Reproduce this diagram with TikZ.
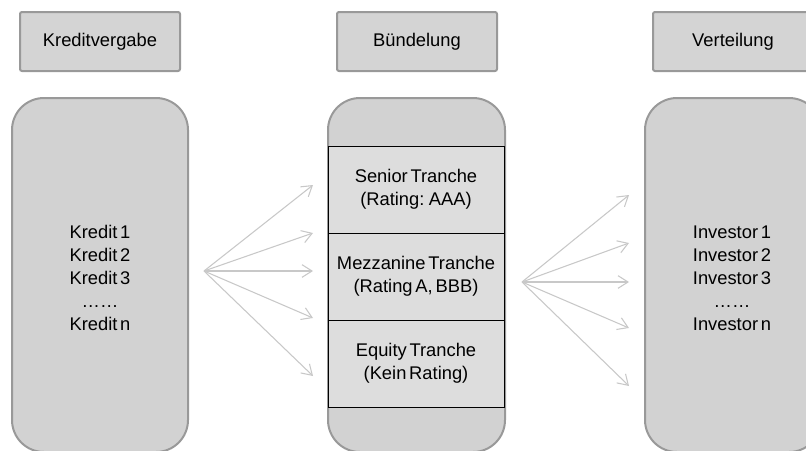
\documentclass[tikz,border=0pt]{standalone}
\usepackage{fontspec}
\setmainfont{Liberation Sans}[WordSpace=0.55]
\usetikzlibrary{arrows.meta}

\definecolor{hdrfill}{HTML}{D4D4D4}
\definecolor{boxfill}{HTML}{D2D2D2}
\definecolor{trfill}{HTML}{DDDDDD}
\definecolor{edgegray}{HTML}{999999}
\definecolor{arrowgray}{HTML}{C8C8C8}

\begin{document}
\begin{tikzpicture}[x=0.75pt,y=-0.75pt,
  every node/.style={font=\fontsize{13.75pt}{17.25pt}\selectfont, inner sep=0pt},
  header/.style={draw=edgegray, line width=1.5pt, fill=hdrfill, rounded corners=1.5pt,
    minimum width=120pt, minimum height=44.25pt},
  column/.style={draw=edgegray, line width=1.5pt, fill=boxfill, rounded corners=24pt,
    minimum height=265.5pt},
  tranche/.style={draw=black, line width=0.75pt, fill=trfill, align=center,
    minimum width=132pt, minimum height=65.25pt},
  listtext/.style={align=center},
  fan/.style={draw=arrowgray, line width=0.8pt,
    -{Straight Barb[length=7.5pt, width=9.5pt, line width=0.8pt]}}
]
\useasboundingbox (0,0) rectangle (806,450);

% column headers
\node[header] (hKredit) at (100,41.5) {Kreditvergabe};
\node[header] (hBuendel) at (417,41.5) {Bündelung};
\node[header] (hVerteil) at (733,41.5) {Verteilung};

% large rounded columns
\node[column, minimum width=132pt] (cKredit) at (100,275) {};
\node[column, minimum width=132.75pt] (cBuendel) at (416.5,275) {};
\node[column, minimum width=132pt] (cVerteil) at (733,275) {};

% tranches inside the pooling column
\node[tranche] (tSenior) at (416,189.5) {Senior Tranche\\(Rating: AAA)};
\node[tranche] (tMezz) at (416,276.5) {Mezzanine Tranche\\(Rating A, BBB)};
\node[tranche] (tEquity) at (416,363.5) {Equity Tranche\\(Kein Rating)};

% lists of loans and investors
\node[listtext] (lKredit) at (100,278) {Kredit 1\\Kredit 2\\Kredit 3\\……\\Kredit n};
\node[listtext] (lInvest) at (732,278) {Investor 1\\Investor 2\\Investor 3\\……\\Investor n};

% fan of arrows: loans to tranches
\coordinate (fanL) at (204,271);
\coordinate (tL1) at (313,185);
\coordinate (tL2) at (313,233);
\coordinate (tL3) at (313,271);
\coordinate (tL4) at (313,318);
\coordinate (tL5) at (313,376);
\foreach \t in {tL1,tL2,tL3,tL4,tL5} \draw[fan] (fanL) -- (\t);

% fan of arrows: tranches to investors
\coordinate (fanR) at (522,282);
\coordinate (tR1) at (629,195);
\coordinate (tR2) at (629,243);
\coordinate (tR3) at (629,282);
\coordinate (tR4) at (629,328);
\coordinate (tR5) at (629,386);
\foreach \t in {tR1,tR2,tR3,tR4,tR5} \draw[fan] (fanR) -- (\t);
\end{tikzpicture}
\end{document}
